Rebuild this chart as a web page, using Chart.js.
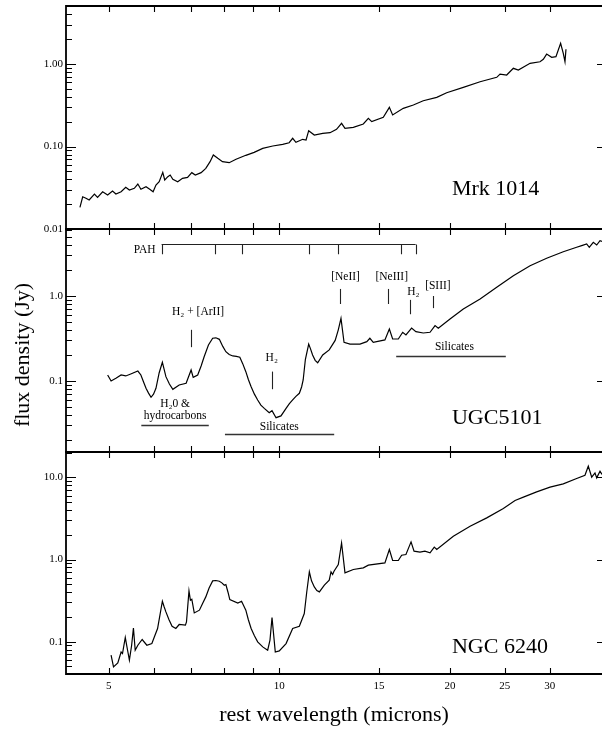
<!DOCTYPE html>
<html>
<head>
<meta charset="utf-8">
<title>Mid-IR spectra</title>
<script src="https://cdn.jsdelivr.net/npm/chart.js@4.4.1/dist/chart.umd.min.js"></script>
<style>
  html, body { margin: 0; padding: 0; background: #fff; }
  #wrap { position: relative; width: 602px; height: 730px; overflow: hidden; }
  canvas { position: absolute; left: 0; }
</style>
</head>
<body>
<div id="wrap">
  <canvas id="c1" width="602" height="240" style="top:0px"></canvas>
  <canvas id="c2" width="602" height="236" style="top:226px"></canvas>
  <canvas id="c3" width="602" height="281" style="top:449px"></canvas>
</div>
<script>
// rest wavelength (microns) / flux density (Jy)
const wlMrk = [4.45, 4.50, 4.56, 4.62, 4.72, 4.78, 4.88, 4.98, 5.08, 5.15, 5.26, 5.36, 5.44, 5.55, 5.63, 5.70,
  5.82, 5.90, 5.99, 6.06, 6.14, 6.23, 6.28, 6.36, 6.42, 6.49, 6.62, 6.75, 6.89, 7.01, 7.11, 7.28, 7.42, 7.55,
  7.65, 7.79, 7.94, 8.16, 8.39, 8.73, 9.03, 9.35, 9.74, 10.14, 10.41, 10.56, 10.70, 11.00, 11.15, 11.27, 11.53,
  11.93, 12.29, 12.62, 12.88, 13.06, 13.51, 14.07, 14.36, 14.56, 15.26, 15.64, 15.85, 16.55, 17.24, 17.95,
  18.96, 19.74, 21.12, 22.61, 24.19, 24.52, 25.19, 25.88, 26.41, 27.70, 28.84, 29.23, 29.63, 30.24, 30.77,
  31.36, 31.70, 31.92, 32.05];
const fluxMrk = [0.0183, 0.0246, 0.0236, 0.0225, 0.0265, 0.0242, 0.0283, 0.0258, 0.0289, 0.0266, 0.0283, 0.032,
  0.0297, 0.0311, 0.0351, 0.0303, 0.0326, 0.0305, 0.0283, 0.0341, 0.0374, 0.0486, 0.0393, 0.0431, 0.0451, 0.040,
  0.0374, 0.0411, 0.0423, 0.0482, 0.0451, 0.0482, 0.0544, 0.0655, 0.0789, 0.0719, 0.0655, 0.0637, 0.070, 0.0782,
  0.085, 0.095, 0.1014, 0.1062, 0.1111, 0.1257, 0.1124, 0.1222, 0.120, 0.1555, 0.1378, 0.1444, 0.147, 0.1616,
  0.191, 0.166, 0.171, 0.1875, 0.22, 0.20, 0.226, 0.2985, 0.241, 0.29, 0.3186, 0.359, 0.394, 0.449, 0.521, 0.61,
  0.69, 0.756, 0.736, 0.887, 0.846, 1.02, 1.066, 1.14, 1.32, 1.205, 1.227, 1.78, 1.35, 1.066, 1.51];

const wlUgc = [4.98, 5.05, 5.15, 5.26, 5.36, 5.47, 5.63, 5.70, 5.76, 5.82, 5.88, 5.94, 6.00, 6.06, 6.14, 6.22,
  6.26, 6.31, 6.40, 6.49, 6.66, 6.85, 6.99, 7.05, 7.18, 7.28, 7.37, 7.50, 7.63, 7.73, 7.84, 7.95, 8.05, 8.16, 8.28,
  8.40, 8.52, 8.62, 8.73, 8.82, 8.92, 9.04, 9.16, 9.28, 9.41, 9.60, 9.71, 9.87, 10.07, 10.28, 10.42, 10.56, 10.70,
  10.85, 10.95, 11.02, 11.12, 11.27, 11.35, 11.45, 11.57, 11.69, 11.93, 12.25, 12.55, 12.71, 12.85, 13.01, 13.33,
  13.88, 14.27, 14.45, 14.65, 15.36, 15.64, 15.85, 16.22, 16.51, 16.73, 17.12, 17.42, 17.95, 18.45, 18.83, 19.08,
  20.01, 21.12, 22.61, 24.19, 25.88, 27.70, 29.63, 31.70, 33.47, 34.16, 34.86, 35.23, 35.81, 36.31, 36.80, 37.10];
const fluxUgc = [0.1177, 0.100, 0.1076, 0.1177, 0.1146, 0.1209, 0.131, 0.1177, 0.098, 0.082, 0.072, 0.0643, 0.070,
  0.082, 0.125, 0.166, 0.140, 0.1124, 0.092, 0.0798, 0.0897, 0.094, 0.1346, 0.1105, 0.1177, 0.150, 0.193, 0.265,
  0.318, 0.322, 0.309, 0.255, 0.221, 0.205, 0.197, 0.195, 0.190, 0.160, 0.1287, 0.104, 0.0857, 0.070, 0.0598, 0.052,
  0.0476, 0.0423, 0.0447, 0.037, 0.0388, 0.0477, 0.054, 0.0598, 0.066, 0.0716, 0.085, 0.1027, 0.180, 0.272, 0.240,
  0.202, 0.175, 0.164, 0.202, 0.232, 0.30, 0.40, 0.546, 0.285, 0.272, 0.272, 0.29, 0.318, 0.285, 0.304, 0.409, 0.312,
  0.312, 0.374, 0.348, 0.42, 0.38, 0.367, 0.374, 0.448, 0.417, 0.536, 0.703, 0.922, 1.265, 1.733, 2.27, 2.78, 3.32,
  3.74, 3.91, 4.09, 3.74, 4.28, 3.98, 4.47, 4.40];

const wlNgc = [5.05, 5.10, 5.19, 5.26, 5.29, 5.35, 5.40, 5.44, 5.49, 5.53, 5.57, 5.63, 5.73, 5.84, 5.96, 6.02,
  6.10, 6.22, 6.26, 6.31, 6.39, 6.47, 6.57, 6.66, 6.83, 6.86, 6.93, 6.97, 7.01, 7.08, 7.23, 7.32, 7.42, 7.52, 7.63,
  7.73, 7.84, 7.92, 8.00, 8.05, 8.12, 8.18, 8.45, 8.58, 8.73, 8.82, 8.92, 9.04, 9.16, 9.35, 9.54, 9.63, 9.71, 9.84,
  10.0, 10.28, 10.56, 10.85, 11.07, 11.18, 11.30, 11.40, 11.53, 11.65, 11.77, 12.01, 12.25, 12.34, 12.42, 12.49,
  12.71, 12.88, 13.06, 13.51, 14.07, 14.36, 15.36, 15.64, 15.85, 16.22, 16.44, 16.73, 17.08, 17.29, 17.71, 18.07,
  18.45, 18.77, 18.96, 20.28, 21.71, 23.23, 24.85, 26.06, 26.96, 28.45, 30.04, 31.70, 33.47, 34.62, 35.09, 35.58,
  36.06, 36.31, 36.80, 37.10];
const fluxNgc = [0.0685, 0.0494, 0.0552, 0.075, 0.0718, 0.1125, 0.0788, 0.0596, 0.0906, 0.147, 0.0788, 0.0906,
  0.1064, 0.0906, 0.095, 0.1144, 0.1448, 0.311, 0.27, 0.2305, 0.185, 0.1544, 0.1448, 0.162, 0.1588, 0.174, 0.415,
  0.32, 0.329, 0.224, 0.242, 0.29, 0.351, 0.45, 0.549, 0.555, 0.544, 0.52, 0.487, 0.496, 0.40, 0.326, 0.296, 0.311,
  0.242, 0.185, 0.1448, 0.118, 0.0995, 0.0865, 0.0788, 0.1043, 0.197, 0.075, 0.0773, 0.095, 0.1448, 0.1544, 0.220,
  0.40, 0.707, 0.55, 0.464, 0.42, 0.404, 0.487, 0.56, 0.707, 0.657, 0.721, 0.869, 1.59, 0.687, 0.756, 0.791, 0.853,
  0.91, 1.323, 0.972, 0.972, 1.128, 1.151, 1.638, 1.262, 1.227, 1.262, 1.203, 1.412, 1.323, 1.92, 2.54, 3.21, 4.17,
  5.22, 5.73, 6.64, 7.58, 8.31, 9.66, 10.6, 13.65, 10.03, 11.3, 9.84, 11.86, 10.8];

const xMajorTicks = [5, 10, 15, 20, 25, 30];
const xMinorTicks = [6, 7, 8, 9];
const pahBands = [6.2, 7.7, 8.6, 11.3, 12.7, 16.4, 17.4];

const X_MIN = 4.205, X_MAX = 37.1;
const SERIF = '"Liberation Serif", "Times New Roman", serif';

function pts(wl, fl) {
  return wl.map((w, i) => ({x: w, y: fl[i]}));
}

function put(ctx, text, x, y, size, align) {
  ctx.font = size + 'px ' + SERIF;
  ctx.fillStyle = '#000';
  ctx.textAlign = align || 'center';
  ctx.textBaseline = 'middle';
  ctx.fillText(text, x, y);
}

// frame with inward ticks, plus panel name
const framePlugin = {
  id: 'frame',
  afterDraw(chart, args, opts) {
    const {ctx, chartArea: a} = chart;
    const x = chart.scales.x, y = chart.scales.y;
    ctx.save();
    ctx.strokeStyle = '#000';
    ctx.lineWidth = 1.8;
    ctx.beginPath();
    ctx.moveTo(a.right + 2, a.top); ctx.lineTo(a.left, a.top);
    ctx.lineTo(a.left, a.bottom); ctx.lineTo(a.right + 2, a.bottom);
    ctx.stroke();

    ctx.lineWidth = 1.1;
    ctx.beginPath();
    xMajorTicks.concat(xMinorTicks).forEach(v => {
      const px = Math.round(x.getPixelForValue(v)) + 0.5;
      ctx.moveTo(px, a.top); ctx.lineTo(px, a.top + 6);
      ctx.moveTo(px, a.bottom); ctx.lineTo(px, a.bottom - 6);
    });
    const lo = Math.floor(Math.log10(y.min)), hi = Math.ceil(Math.log10(y.max));
    for (let e = lo; e <= hi; e++) {
      for (let k = 1; k <= 9; k++) {
        const v = k * Math.pow(10, e);
        if (v <= y.min || v >= y.max) continue;
        const py = Math.round(y.getPixelForValue(v)) + 0.5;
        ctx.moveTo(a.left, py); ctx.lineTo(a.left + (k === 1 ? 10 : 6), py);
        if (k === 1) { ctx.moveTo(a.right, py); ctx.lineTo(a.right - 5, py); }
      }
    }
    ctx.stroke();

    if (opts.name) {
      put(ctx, opts.name, x.getPixelForValue(opts.nameAt[0]), y.getPixelForValue(opts.nameAt[1]), 22, 'left');
    }
    ctx.restore();
  }
};

// feature markers on the middle panel
const markPlugin = {
  id: 'marks',
  afterDraw(chart, args, opts) {
    if (!opts.on) return;
    const {ctx} = chart;
    const x = chart.scales.x, y = chart.scales.y;
    const X = v => x.getPixelForValue(v), Y = v => y.getPixelForValue(v);
    ctx.save();
    ctx.strokeStyle = '#222';
    ctx.lineWidth = 1.1;

    // PAH bracket
    const top = Math.round(Y(4.05)) + 0.5, tip = Y(3.1);
    ctx.beginPath();
    ctx.moveTo(X(pahBands[0]), top); ctx.lineTo(X(pahBands[pahBands.length - 1]), top);
    pahBands.forEach(w => { const px = Math.round(X(w)) + 0.5; ctx.moveTo(px, top); ctx.lineTo(px, tip); });
    ctx.stroke();
    put(ctx, 'PAH', X(pahBands[0]) - 6, Y(3.48), 11.5, 'right');

    opts.lines.forEach(f => {
      const px = Math.round(X(f.wl)) + 0.5;
      ctx.beginPath(); ctx.moveTo(px, Y(f.from)); ctx.lineTo(px, Y(f.to)); ctx.stroke();
      put(ctx, f.text, X(f.at[0]), Y(f.at[1]), 11.5);
    });

    ctx.lineWidth = 1.4;
    ctx.strokeStyle = '#333';
    opts.bars.forEach(b => {
      const py = Math.round(Y(b.level)) + 0.5;
      ctx.beginPath(); ctx.moveTo(X(b.span[0]), py); ctx.lineTo(X(b.span[1]), py); ctx.stroke();
      b.text.forEach((t, i) => put(ctx, t, X(b.at[0]), Y(b.at[1][i]), 11.5));
    });

    // shared y title
    ctx.translate(23, 129);
    ctx.rotate(-Math.PI / 2);
    put(ctx, 'flux density (Jy)', 0, 0, 22);
    ctx.restore();
  }
};

function xAxis(show) {
  return {
    type: 'logarithmic', min: X_MIN, max: X_MAX, bounds: 'data', display: show,
    grid: {display: false, drawTicks: false},
    border: {display: false},
    afterBuildTicks: s => { s.ticks = xMajorTicks.map(v => ({value: v})); },
    afterFit: s => {
      if (show) s.height = 56;
      s.paddingLeft = 0; s.paddingRight = 0;
    },
    ticks: {
      autoSkip: false, maxRotation: 0, padding: 6, color: '#000',
      font: {family: SERIF, size: 11},
      callback: v => String(v)
    },
    title: {
      display: show, text: 'rest wavelength (microns)', color: '#000',
      font: {family: SERIF, size: 22}, padding: {top: 0, bottom: 2}
    }
  };
}

function yAxis(min, max, labels, digits) {
  return {
    type: 'logarithmic', min: min, max: max, bounds: 'data',
    grid: {display: false, drawTicks: false},
    border: {display: false},
    afterBuildTicks: s => { s.ticks = labels.map(v => ({value: v})); },
    afterFit: s => { s.width = 66; s.paddingTop = 0; s.paddingBottom = 0; },
    ticks: {
      autoSkip: false, padding: 3, color: '#000',
      font: {family: SERIF, size: 11},
      callback: v => Number(v).toFixed(digits)
    }
  };
}

function panel(id, wl, fl, yScale, showX, pad, frame, marks) {
  return new Chart(document.getElementById(id), {
    type: 'line',
    data: {
      datasets: [{
        data: pts(wl, fl),
        borderColor: '#000',
        borderWidth: 1.2,
        pointRadius: 0,
        tension: 0,
        fill: false
      }]
    },
    options: {
      responsive: false,
      animation: false,
      layout: {padding: pad},
      scales: {x: xAxis(showX), y: yScale},
      plugins: {
        legend: {display: false},
        tooltip: {enabled: false},
        frame: frame,
        marks: marks || {on: false}
      }
    },
    plugins: [framePlugin, markPlugin]
  });
}

panel('c1', wlMrk, fluxMrk, yAxis(0.01, 5.05, [0.01, 0.1, 1], 2), false,
  {top: 6, bottom: 11, left: 0, right: 0},
  {name: 'Mrk 1014', nameAt: [20.17, 0.0305]});

panel('c2', wlUgc, fluxUgc, yAxis(0.0146, 6.14, [0.1, 1], 1), false,
  {top: 3, bottom: 10, left: 0, right: 0},
  {name: 'UGC5101', nameAt: [20.17, 0.0367]},
  {
    on: true,
    lines: [
      {text: 'H₂ + [ArII]', wl: 7.0, from: 0.25, to: 0.40, at: [7.19, 0.64]},
      {text: 'H₂', wl: 9.7, from: 0.08, to: 0.129, at: [9.7, 0.185]},
      {text: '[NeII]', wl: 12.81, from: 0.805, to: 1.21, at: [13.09, 1.66]},
      {text: '[NeIII]', wl: 15.55, from: 0.805, to: 1.21, at: [15.79, 1.66]},
      {text: 'H₂', wl: 17.03, from: 0.61, to: 0.90, at: [17.24, 1.105]},
      {text: '[SIII]', wl: 18.71, from: 0.72, to: 1.0, at: [19.05, 1.31]}
    ],
    bars: [
      {text: ['H₂0 &', 'hydrocarbons'], span: [5.71, 7.51], level: 0.0304, at: [6.55, [0.0536, 0.0388]]},
      {text: ['Silicates'], span: [8.02, 12.5], level: 0.0236, at: [10.0, [0.029]]},
      {text: ['Silicates'], span: [16.08, 25.1], level: 0.198, at: [20.37, [0.249]]}
    ]
  });

panel('c3', wlNgc, fluxNgc, yAxis(0.0405, 20.3, [0.1, 1, 10], 1), true,
  {top: 3, bottom: 0, left: 0, right: 0},
  {name: 'NGC 6240', nameAt: [20.17, 0.0857]});
</script>
</body>
</html>
